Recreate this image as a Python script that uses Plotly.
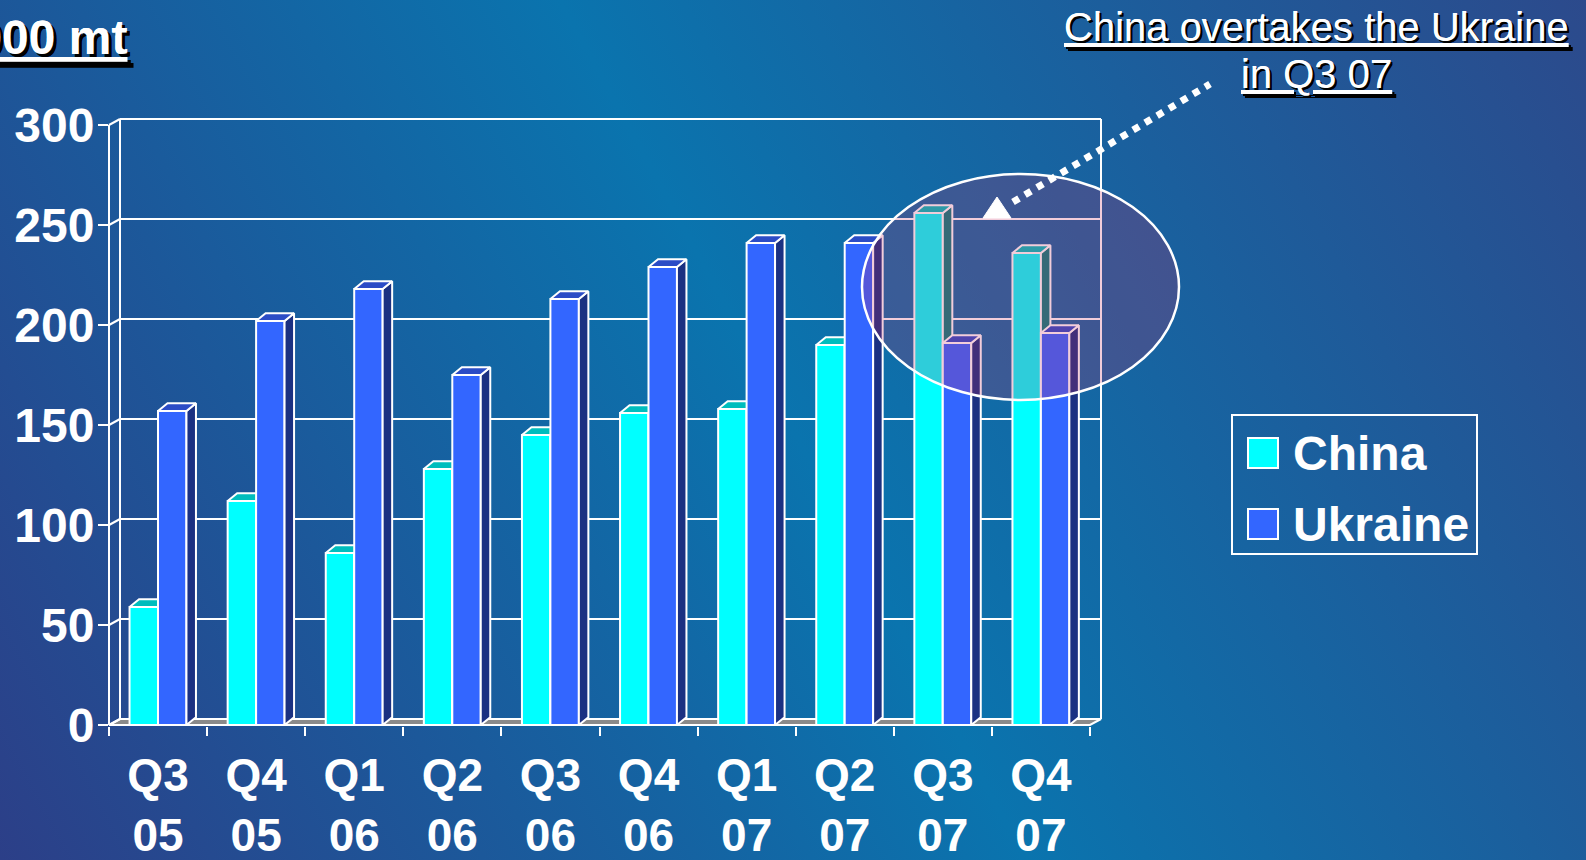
import base64
import plotly.graph_objects as go

# ---------------- data ----------------
quarters = ["Q3<br>05", "Q4<br>05", "Q1<br>06", "Q2<br>06", "Q3<br>06",
            "Q4<br>06", "Q1<br>07", "Q2<br>07", "Q3<br>07", "Q4<br>07"]
china = [59, 112, 86, 128, 145, 156, 158, 190, 256, 236]
ukraine = [157, 202, 218, 175, 213, 229, 241, 241, 191, 196]
y_ticks = [0, 50, 100, 150, 200, 250, 300]
series_names = ["China", "Ukraine"]
unit_title = "'000 mt"
callout_lines = ["China overtakes the Ukraine", "in Q3 07"]

# ---------------- layout constants ----------------
W, H = 1586, 860
L, R, T, B = 109, 1101, 112, 726          # plot area in px
BAR_X0, BAR_STEP = 158, 98.1              # bar plane: px of category 0, px per category
Y0_PX, Y_PX = 725, 2.0                    # px of value 0, px per unit
FRONT_X0, FRONT_STEP = 109, 98.1          # front (label) axis plane
xr = [(L - BAR_X0) / BAR_STEP, (R - BAR_X0) / BAR_STEP]
yr = [(Y0_PX - B) / Y_PX, (Y0_PX - T) / Y_PX]

BAR_W = 0.29
DXB, DYB = 0.097, 3.9                     # bar depth (x units, value units)
WALL_DX_PX, WALL_DY = 11, 3               # back wall offset

FONT = "Liberation Sans, Arial, sans-serif"
C_CHINA, C_CHINA_TOP, C_CHINA_SIDE = "#00FFFF", "#00BDBD", "#0B7F7F"
C_UKR, C_UKR_TOP, C_UKR_SIDE = "#3366FF", "#2B4CC6", "#1B3182"


def pxx(px):
    return (px - L) / (R - L)


def pxy(py):
    return (B - py) / (B - T)


def front_px(u):
    return FRONT_X0 + FRONT_STEP * (u + 0.5)


def front_to_bar(u):
    # position of front-plane category coordinate u on the bar-plane x axis
    return (front_px(u) - BAR_X0) / BAR_STEP


def faces(vals, off):
    tx, ty, sx, sy = [], [], [], []
    for i, v in enumerate(vals):
        x0 = i + off
        x1 = x0 + BAR_W
        tx += [x0, x1, x1 + DXB, x0 + DXB, x0, None]
        ty += [v, v, v + DYB, v + DYB, v, None]
        sx += [x1, x1, x1 + DXB, x1 + DXB, x1, None]
        sy += [0, v, v + DYB, DYB, 0, None]
    return tx, ty, sx, sy


fig = go.Figure()
n = len(quarters)

# China (main subplot)
fig.add_trace(go.Bar(x=list(range(n)), y=china, width=BAR_W, offset=-BAR_W,
                     name=series_names[0], marker=dict(color=C_CHINA, line=dict(color="white", width=2)),
                     xaxis="x", yaxis="y", showlegend=False, hoverinfo="skip"))
tx, ty, sx, sy = faces(china, -BAR_W)
fig.add_trace(go.Scatter(x=sx, y=sy, fill="toself", fillcolor=C_CHINA_SIDE, mode="lines",
                         line=dict(color="white", width=2), xaxis="x", yaxis="y",
                         showlegend=False, hoverinfo="skip"))
fig.add_trace(go.Scatter(x=tx, y=ty, fill="toself", fillcolor=C_CHINA_TOP, mode="lines",
                         line=dict(color="white", width=2), xaxis="x", yaxis="y",
                         showlegend=False, hoverinfo="skip"))

# Ukraine (overlay subplot, drawn above China)
fig.add_trace(go.Bar(x=list(range(n)), y=ukraine, width=BAR_W, offset=0,
                     name=series_names[1], marker=dict(color=C_UKR, line=dict(color="white", width=2)),
                     xaxis="x2", yaxis="y2", showlegend=False, hoverinfo="skip"))
tx, ty, sx, sy = faces(ukraine, 0)
fig.add_trace(go.Scatter(x=sx, y=sy, fill="toself", fillcolor=C_UKR_SIDE, mode="lines",
                         line=dict(color="white", width=2), xaxis="x2", yaxis="y2",
                         showlegend=False, hoverinfo="skip"))
fig.add_trace(go.Scatter(x=tx, y=ty, fill="toself", fillcolor=C_UKR_TOP, mode="lines",
                         line=dict(color="white", width=2), xaxis="x2", yaxis="y2",
                         showlegend=False, hoverinfo="skip"))

shapes = []
fl, fr = front_px(-0.5), front_px(n - 0.5)
bl, br = fl + WALL_DX_PX, fr + WALL_DX_PX
# floor
shapes.append(dict(type="path", xref="paper", yref="y", layer="below",
                   path=f"M{pxx(fl)},0 L{pxx(fr)},0 L{pxx(br)},{WALL_DY} L{pxx(bl)},{WALL_DY} Z",
                   fillcolor="#8a8a8a", line=dict(color="white", width=2)))
# back wall grid lines and left-wall connectors
for v in y_ticks:
    shapes.append(dict(type="line", xref="paper", yref="y", layer="below",
                       x0=pxx(bl), x1=pxx(br), y0=v + WALL_DY, y1=v + WALL_DY,
                       line=dict(color="white", width=2)))
    shapes.append(dict(type="line", xref="paper", yref="y", layer="below",
                       x0=pxx(fl), x1=pxx(bl), y0=v, y1=v + WALL_DY,
                       line=dict(color="white", width=2)))
# back wall verticals
for xx in (bl, br):
    shapes.append(dict(type="line", xref="paper", yref="y", layer="below",
                       x0=pxx(xx), x1=pxx(xx), y0=WALL_DY, y1=y_ticks[-1] + WALL_DY,
                       line=dict(color="white", width=2)))
# front value axis line
shapes.append(dict(type="line", xref="paper", yref="y", layer="below",
                   x0=pxx(fl), x1=pxx(fl), y0=0, y1=y_ticks[-1],
                   line=dict(color="white", width=2)))

# callout ellipse
shapes.append(dict(type="circle", xref="paper", yref="paper", layer="above",
                   x0=pxx(862), x1=pxx(1179), y0=pxy(400), y1=pxy(174),
                   fillcolor="rgba(200,40,95,0.23)", line=dict(color="white", width=2.5)))
# dotted pointer
shapes.append(dict(type="line", xref="paper", yref="paper", layer="above",
                   x0=pxx(1013), y0=pxy(202), x1=pxx(1210), y1=pxy(84),
                   line=dict(color="white", width=7, dash="dot")))
shapes.append(dict(type="path", xref="paper", yref="paper", layer="above",
                   path=f"M{pxx(997)},{pxy(197)} L{pxx(1011)},{pxy(218)} L{pxx(983)},{pxy(218)} Z",
                   fillcolor="white", line=dict(color="white", width=1)))
# legend
shapes.append(dict(type="rect", xref="paper", yref="paper", layer="above",
                   x0=pxx(1232), x1=pxx(1477), y0=pxy(554), y1=pxy(415),
                   line=dict(color="white", width=2), fillcolor="rgba(0,0,0,0)"))
for (yc, col) in ((453, C_CHINA), (524, C_UKR)):
    shapes.append(dict(type="rect", xref="paper", yref="paper", layer="above",
                       x0=pxx(1248), x1=pxx(1278), y0=pxy(yc + 15), y1=pxy(yc - 15),
                       line=dict(color="white", width=2), fillcolor=col))

annotations = []
for (yc, name) in ((453, series_names[0]), (524, series_names[1])):
    annotations.append(dict(xref="paper", yref="paper", x=pxx(1291), y=pxy(yc),
                            xanchor="left", yanchor="middle", showarrow=False, text=name,
                            font=dict(family=FONT, size=48, color="white", weight="bold")))
annotations.append(dict(xref="paper", yref="paper", x=pxx(130), y=pxy(38),
                        xanchor="right", yanchor="middle", showarrow=False, text=unit_title,
                        font=dict(family=FONT, size=48, color="white", weight="bold",
                                  lineposition="under", shadow="3px 3px 0px #000")))
for (yc, txt) in ((27, callout_lines[0]), (74, callout_lines[1])):
    annotations.append(dict(xref="paper", yref="paper", x=pxx(1316), y=pxy(yc),
                            xanchor="center", yanchor="middle", showarrow=False, text=txt,
                            font=dict(family=FONT, size=40, color="white",
                                      lineposition="under", shadow="2px 2px 0px #000")))

EXT = 40
svg = (f"<svg xmlns='http://www.w3.org/2000/svg' width='{W + 2 * EXT}' height='{H + 2 * EXT}' "
       f"viewBox='{-EXT} {-EXT} {W + 2 * EXT} {H + 2 * EXT}' preserveAspectRatio='none'>"
       f"<defs><linearGradient id='g' gradientUnits='userSpaceOnUse' x1='0' y1='{H}' x2='{W}' y2='0'>"
       "<stop offset='0' stop-color='#2c3f88'/><stop offset='0.5' stop-color='#0a74ae'/>"
       "<stop offset='1' stop-color='#2c4a8c'/></linearGradient></defs>"
       f"<rect x='{-EXT}' y='{-EXT}' width='{W + 2 * EXT}' height='{H + 2 * EXT}' fill='url(#g)'/></svg>")
bg_src = "data:image/svg+xml;base64," + base64.b64encode(svg.encode()).decode()

fig.update_layout(
    width=W, height=H, autosize=False,
    margin=dict(l=L, r=W - R, t=T, b=H - B, pad=0),
    paper_bgcolor="#1d5c9c", plot_bgcolor="rgba(0,0,0,0)",
    hovermode=False, showlegend=False,
    images=[dict(source=bg_src, xref="paper", yref="paper", x=pxx(-EXT), y=pxy(-EXT),
                 sizex=(W + 2 * EXT) / (R - L), sizey=(H + 2 * EXT) / (B - T),
                 xanchor="left", yanchor="top", sizing="stretch", layer="below")],
    xaxis=dict(range=xr, tickmode="array",
               tickvals=[front_to_bar(k) for k in range(n)], ticktext=quarters,
               ticks="outside", ticklen=9, tickwidth=1, tickcolor="rgba(0,0,0,0)",
               showgrid=False, zeroline=False, showline=False, automargin=False,
               tickfont=dict(family=FONT, size=46, color="white", weight="bold"),
               minor=dict(tickmode="array", tickvals=[front_to_bar(k - 0.5) for k in range(n + 1)],
                          ticks="outside", ticklen=9, tickwidth=2, tickcolor="white",
                          showgrid=False),
               fixedrange=True),
    xaxis2=dict(range=xr, overlaying="x", anchor="y2", visible=False, fixedrange=True),
    yaxis2=dict(range=yr, overlaying="y", anchor="x2", visible=False, fixedrange=True),
    yaxis=dict(range=yr, tickmode="array", tickvals=y_ticks, ticks="outside", ticklen=10,
               tickwidth=2, tickcolor="white", showgrid=False, zeroline=False, showline=False,
               ticklabelstandoff=-6, automargin=False,
               tickfont=dict(family=FONT, size=48, color="white", weight="bold"),
               fixedrange=True),
    shapes=shapes, annotations=annotations,
)

fig.write_html("out.html", config={"displayModeBar": False},
               post_script="document.body.style.margin='0';document.body.style.overflow='hidden';")
